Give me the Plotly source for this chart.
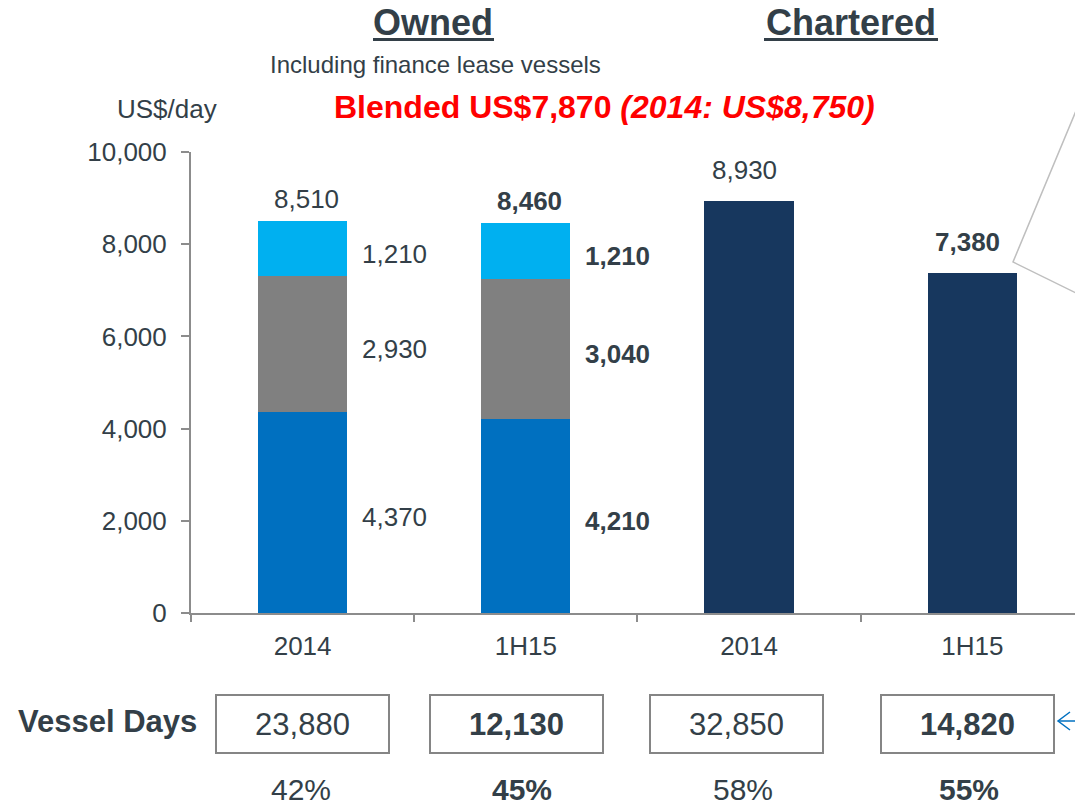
import plotly.graph_objects as go

# ---- data ----
categories = ["2014", "1H15", "2014", "1H15"]
owned_x = [0, 1]
chartered_x = [2, 3]
owned_bottom = [4370, 4210]
owned_middle = [2930, 3040]
owned_top = [1210, 1210]
owned_total = [8510, 8460]
chartered = [8930, 7380]
vessel_days = ["23,880", "12,130", "32,850", "14,820"]
shares = ["42%", "45%", "58%", "55%"]
bold_flags = [False, True, False, True]

# ---- layout helpers (screen pixels; body margin removed in the page) ----
W, H = 1075, 806
ML, MR, MT, MB = 191, 0, 152, 193
FONT = "Liberation Sans, Arial, sans-serif"
TXT = "#333F48"
AX = "#8C8C8C"


def px(x):
    return (x - ML) / (W - ML - MR)


def py(y):
    return (H - MB - y) / (H - MT - MB)


def b(s, flag):
    return f"<b>{s}</b>" if flag else s


def note(x, y, text, size, color=TXT, **kw):
    d = dict(x=x, y=y, xref="paper", yref="paper", showarrow=False, text=text,
             xanchor="center", yanchor="middle",
             font=dict(size=size, color=color, family=FONT))
    d.update(kw)
    return d


fig = go.Figure()
fig.add_trace(go.Bar(x=owned_x, y=owned_bottom, marker_color="#0070C0", width=0.4,
                     marker_line_width=0, hoverinfo="skip"))
fig.add_trace(go.Bar(x=owned_x, y=owned_middle, marker_color="#808080", width=0.4,
                     marker_line_width=0, hoverinfo="skip"))
fig.add_trace(go.Bar(x=owned_x, y=owned_top, marker_color="#00B0F0", width=0.4,
                     marker_line_width=0, hoverinfo="skip"))
fig.add_trace(go.Bar(x=chartered_x, y=chartered, marker_color="#17375E", width=0.4,
                     marker_line_width=0, hoverinfo="skip"))

ann = []
# segment labels (right of owned bars) and totals
for i, xi in enumerate(owned_x):
    base = 0
    for seg in (owned_bottom, owned_middle, owned_top):
        v = seg[i]
        ann.append(dict(x=xi + 0.41, y=base + v / 2, xref="x", yref="y", yshift=-5,
                        xanchor="center", yanchor="middle",
                        text=b(f"{v:,}", bold_flags[i]), showarrow=False,
                        font=dict(size=26, color=TXT, family=FONT)))
        base += v
    ann.append(dict(x=xi, y=owned_total[i], xref="x", yref="y", yanchor="bottom", yshift=5,
                    xanchor="center", xshift=4,
                    text=b(f"{owned_total[i]:,}", bold_flags[i]), showarrow=False,
                    font=dict(size=26, color=TXT, family=FONT)))
for i, xi in enumerate(chartered_x):
    ann.append(dict(x=xi, y=chartered[i], xref="x", yref="y", yanchor="bottom", yshift=14,
                    xanchor="center", xshift=-5,
                    text=b(f"{chartered[i]:,}", bold_flags[i + 2]), showarrow=False,
                    font=dict(size=26, color=TXT, family=FONT)))

# headers
ann.append(note(px(433), py(22), "<b>Owned</b>", 36, height=38))
ann.append(note(px(851), py(22), "<b>Chartered</b>", 36, height=38))
ann.append(note(px(435), py(64), "Including finance lease vessels", 24))
ann.append(note(px(167), py(109), "US$/day", 26))
ann.append(note(px(604), py(107), "<b>Blended US$7,870 <i>(2014: US$8,750)</i></b>", 32,
                color="#FF0000"))

# vessel days row
ann.append(note(px(107), py(721), "<b>Vessel Days</b>", 31))
box_shift = [0, -9, -13, -5]
pct_shift = [-2, -4, -6, -3]
for i, (vd, sh) in enumerate(zip(vessel_days, shares)):
    ann.append(dict(x=i, y=py(724), xref="x", yref="paper", showarrow=False,
                    xanchor="center", yanchor="middle",
                    xshift=box_shift[i], text=b(vd, bold_flags[i]),
                    width=171, height=56, borderpad=0, borderwidth=2,
                    bordercolor="#858585", valign="middle",
                    font=dict(size=31, color=TXT, family=FONT)))
    ann.append(dict(x=i, y=py(789), xref="x", yref="paper", showarrow=False,
                    xanchor="center", yanchor="middle", height=26,
                    xshift=pct_shift[i], text=b(sh, bold_flags[i]),
                    font=dict(size=30, color=TXT, family=FONT)))

shapes = [
    # header underlines
    dict(type="line", xref="paper", yref="paper", x0=px(373), x1=px(494),
         y0=py(39.5), y1=py(39.5), line=dict(color=TXT, width=3)),
    dict(type="line", xref="paper", yref="paper", x0=px(764), x1=px(938),
         y0=py(39.5), y1=py(39.5), line=dict(color=TXT, width=3)),
    # callout pointer (top right)
    dict(type="path", xref="paper", yref="paper",
         path=f"M {px(1078)},{py(106)} L {px(1013)},{py(262)} L {px(1078)},{py(294)}",
         line=dict(color="#BFBFBF", width=1.5)),
    # blue arrow at right of vessel days
    dict(type="path", xref="paper", yref="paper",
         path=f"M {px(1058)},{py(721)} L {px(1078)},{py(721)}",
         line=dict(color="#0070C0", width=1.5)),
    dict(type="path", xref="paper", yref="paper",
         path=f"M {px(1070)},{py(712)} L {px(1058)},{py(721)} L {px(1070)},{py(730)}",
         line=dict(color="#0070C0", width=1.5)),
]

fig.update_layout(
    width=W, height=H,
    margin=dict(l=ML, r=MR, t=MT, b=MB, pad=0),
    barmode="stack",
    showlegend=False,
    plot_bgcolor="white", paper_bgcolor="white",
    font=dict(family=FONT, color=TXT),
    annotations=ann,
    shapes=shapes,
    xaxis=dict(
        range=[-0.5, 3.46],
        tickmode="array", tickvals=[0, 1, 2, 3], ticktext=categories,
        ticks="", showgrid=False, zeroline=False,
        showline=True, linecolor=AX, linewidth=2,
        tickfont=dict(size=26, color=TXT, family=FONT),
        ticklabelstandoff=9,
        minor=dict(tickmode="array", tickvals=[-0.5, 0.5, 1.5, 2.5, 3.5],
                   ticks="outside", ticklen=7, tickwidth=2, tickcolor=AX, showgrid=False),
        fixedrange=True,
    ),
    yaxis=dict(
        range=[0, 10000], tickmode="array",
        tickvals=[0, 2000, 4000, 6000, 8000, 10000],
        tickformat=",", ticks="outside", ticklen=8, tickwidth=2, tickcolor=AX,
        showline=True, linecolor=AX, linewidth=2,
        showgrid=False, zeroline=False,
        tickfont=dict(size=26, color=TXT, family=FONT),
        ticklabelstandoff=9,
        fixedrange=True,
    ),
)

fig.write_html(
    "out.html",
    config={"displayModeBar": False},
    post_script="document.body.style.margin='0px';document.body.style.overflow='hidden';",
)
